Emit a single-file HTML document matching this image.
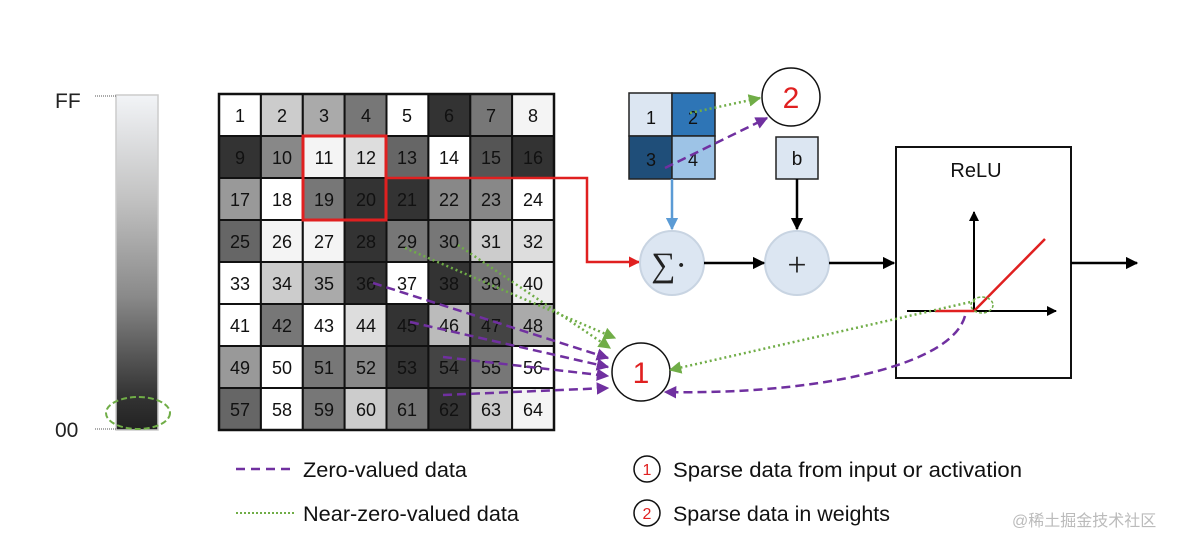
<!DOCTYPE html>
<html><head><meta charset="utf-8"><style>
html,body{margin:0;padding:0;background:#fff;}
svg{display:block;font-family:"Liberation Sans","Noto Sans CJK SC",sans-serif;}
</style></head><body>
<svg width="1192" height="546" viewBox="0 0 1192 546" xmlns="http://www.w3.org/2000/svg">
<defs>
<linearGradient id="g" x1="0" y1="0" x2="0" y2="1">
<stop offset="0" stop-color="#f2f4f7"/><stop offset="0.3" stop-color="#c4c4c4"/><stop offset="0.6" stop-color="#8a8a8a"/><stop offset="0.9" stop-color="#333"/><stop offset="1" stop-color="#222"/>
</linearGradient>
<marker id="ab" viewBox="0 0 10 10" refX="9" refY="5" markerWidth="5" markerHeight="5" orient="auto"><path d="M0,0L10,5L0,10z" fill="#000"/></marker>
<marker id="ar" viewBox="0 0 10 10" refX="9" refY="5" markerWidth="4.5" markerHeight="4.5" orient="auto"><path d="M0,0L10,5L0,10z" fill="#e02020"/></marker>
<marker id="abl" viewBox="0 0 10 10" refX="9" refY="5" markerWidth="5" markerHeight="5" orient="auto"><path d="M0,0L10,5L0,10z" fill="#5b9bd5"/></marker>
<marker id="ap" viewBox="0 0 10 10" refX="9" refY="5" markerWidth="5" markerHeight="5" orient="auto"><path d="M0,0L10,5L0,10z" fill="#7030a0"/></marker>
<marker id="ag" viewBox="0 0 10 10" refX="9" refY="5" markerWidth="5" markerHeight="5" orient="auto"><path d="M0,0L10,5L0,10z" fill="#70ad47"/></marker>
</defs>

<rect x="116" y="95" width="42" height="335" fill="url(#g)" stroke="#ccc" stroke-width="1.5"/>
<line x1="95" y1="96" x2="116" y2="96" stroke="#555" stroke-width="1" stroke-dasharray="1,1"/>
<line x1="95" y1="429" x2="116" y2="429" stroke="#555" stroke-width="1" stroke-dasharray="1,1"/>
<text x="55" y="108" font-size="21" fill="#222">FF</text>
<text x="55" y="437" font-size="21" fill="#222">00</text>
<ellipse cx="138" cy="413" rx="32" ry="16" fill="none" stroke="#70ad47" stroke-width="2" stroke-dasharray="6,3"/>

<g stroke="#111" stroke-width="2">
<g transform="translate(0,94)">
<rect x="219" width="41.9" height="42" fill="#fff"/><rect x="260.9" width="41.9" height="42" fill="#ccc"/><rect x="302.8" width="41.9" height="42" fill="#aaa"/><rect x="344.6" width="41.9" height="42" fill="#777"/><rect x="386.5" width="41.9" height="42" fill="#fff"/><rect x="428.4" width="41.9" height="42" fill="#333"/><rect x="470.3" width="41.9" height="42" fill="#777"/><rect x="512.1" width="41.9" height="42" fill="#f4f4f4"/></g>
<g transform="translate(0,136)">
<rect x="219" width="41.9" height="42" fill="#333"/><rect x="260.9" width="41.9" height="42" fill="#888"/><rect x="302.8" width="41.9" height="42" fill="#f4f4f4"/><rect x="344.6" width="41.9" height="42" fill="#ddd"/><rect x="386.5" width="41.9" height="42" fill="#666"/><rect x="428.4" width="41.9" height="42" fill="#fff"/><rect x="470.3" width="41.9" height="42" fill="#555"/><rect x="512.1" width="41.9" height="42" fill="#333"/></g>
<g transform="translate(0,178)">
<rect x="219" width="41.9" height="42" fill="#999"/><rect x="260.9" width="41.9" height="42" fill="#fff"/><rect x="302.8" width="41.9" height="42" fill="#777"/><rect x="344.6" width="41.9" height="42" fill="#333"/><rect x="386.5" width="41.9" height="42" fill="#333"/><rect x="428.4" width="41.9" height="42" fill="#888"/><rect x="470.3" width="41.9" height="42" fill="#888"/><rect x="512.1" width="41.9" height="42" fill="#fff"/></g>
<g transform="translate(0,220)">
<rect x="219" width="41.9" height="42" fill="#666"/><rect x="260.9" width="41.9" height="42" fill="#f4f4f4"/><rect x="302.8" width="41.9" height="42" fill="#f4f4f4"/><rect x="344.6" width="41.9" height="42" fill="#333"/><rect x="386.5" width="41.9" height="42" fill="#777"/><rect x="428.4" width="41.9" height="42" fill="#777"/><rect x="470.3" width="41.9" height="42" fill="#ccc"/><rect x="512.1" width="41.9" height="42" fill="#ddd"/></g>
<g transform="translate(0,262)">
<rect x="219" width="41.9" height="42" fill="#fff"/><rect x="260.9" width="41.9" height="42" fill="#ccc"/><rect x="302.8" width="41.9" height="42" fill="#aaa"/><rect x="344.6" width="41.9" height="42" fill="#333"/><rect x="386.5" width="41.9" height="42" fill="#fff"/><rect x="428.4" width="41.9" height="42" fill="#333"/><rect x="470.3" width="41.9" height="42" fill="#777"/><rect x="512.1" width="41.9" height="42" fill="#eee"/></g>
<g transform="translate(0,304)">
<rect x="219" width="41.9" height="42" fill="#fff"/><rect x="260.9" width="41.9" height="42" fill="#777"/><rect x="302.8" width="41.9" height="42" fill="#fff"/><rect x="344.6" width="41.9" height="42" fill="#ddd"/><rect x="386.5" width="41.9" height="42" fill="#333"/><rect x="428.4" width="41.9" height="42" fill="#bbb"/><rect x="470.3" width="41.9" height="42" fill="#444"/><rect x="512.1" width="41.9" height="42" fill="#aaa"/></g>
<g transform="translate(0,346)">
<rect x="219" width="41.9" height="42" fill="#999"/><rect x="260.9" width="41.9" height="42" fill="#fff"/><rect x="302.8" width="41.9" height="42" fill="#777"/><rect x="344.6" width="41.9" height="42" fill="#888"/><rect x="386.5" width="41.9" height="42" fill="#333"/><rect x="428.4" width="41.9" height="42" fill="#444"/><rect x="470.3" width="41.9" height="42" fill="#777"/><rect x="512.1" width="41.9" height="42" fill="#fff"/></g>
<g transform="translate(0,388)">
<rect x="219" width="41.9" height="42" fill="#666"/><rect x="260.9" width="41.9" height="42" fill="#fff"/><rect x="302.8" width="41.9" height="42" fill="#777"/><rect x="344.6" width="41.9" height="42" fill="#ccc"/><rect x="386.5" width="41.9" height="42" fill="#777"/><rect x="428.4" width="41.9" height="42" fill="#333"/><rect x="470.3" width="41.9" height="42" fill="#ccc"/><rect x="512.1" width="41.9" height="42" fill="#f4f4f4"/></g>
</g>
<g font-size="18" text-anchor="middle" fill="#111">
<g transform="translate(0,122)"><text x="240">1</text><text x="282">2</text><text x="324">3</text><text x="366">4</text><text x="407">5</text><text x="449">6</text><text x="491">7</text><text x="533">8</text></g>
<g transform="translate(0,164)"><text x="240">9</text><text x="282">10</text><text x="324">11</text><text x="366">12</text><text x="407">13</text><text x="449">14</text><text x="491">15</text><text x="533">16</text></g>
<g transform="translate(0,206)"><text x="240">17</text><text x="282">18</text><text x="324">19</text><text x="366">20</text><text x="407">21</text><text x="449">22</text><text x="491">23</text><text x="533">24</text></g>
<g transform="translate(0,248)"><text x="240">25</text><text x="282">26</text><text x="324">27</text><text x="366">28</text><text x="407">29</text><text x="449">30</text><text x="491">31</text><text x="533">32</text></g>
<g transform="translate(0,290)"><text x="240">33</text><text x="282">34</text><text x="324">35</text><text x="366">36</text><text x="407">37</text><text x="449">38</text><text x="491">39</text><text x="533">40</text></g>
<g transform="translate(0,332)"><text x="240">41</text><text x="282">42</text><text x="324">43</text><text x="366">44</text><text x="407">45</text><text x="449">46</text><text x="491">47</text><text x="533">48</text></g>
<g transform="translate(0,374)"><text x="240">49</text><text x="282">50</text><text x="324">51</text><text x="366">52</text><text x="407">53</text><text x="449">54</text><text x="491">55</text><text x="533">56</text></g>
<g transform="translate(0,416)"><text x="240">57</text><text x="282">58</text><text x="324">59</text><text x="366">60</text><text x="407">61</text><text x="449">62</text><text x="491">63</text><text x="533">64</text></g>
</g>
<rect x="219" y="94" width="335" height="336" fill="none" stroke="#111" stroke-width="2.5"/>
<rect x="303" y="136" width="83" height="84" fill="none" stroke="#e02020" stroke-width="3"/>
<polyline points="386,178 587,178 587,262 639,262" fill="none" stroke="#e02020" stroke-width="2.5" marker-end="url(#ar)"/>

<rect x="629" y="93" width="43" height="43" fill="#dce6f2" stroke="#222" stroke-width="1.5"/>
<rect x="672" y="93" width="43" height="43" fill="#2e75b6" stroke="#222" stroke-width="1.5"/>
<rect x="629" y="136" width="43" height="43" fill="#1f4e79" stroke="#222" stroke-width="1.5"/>
<rect x="672" y="136" width="43" height="43" fill="#9dc3e6" stroke="#222" stroke-width="1.5"/>
<g font-size="18" fill="#111" text-anchor="middle">
<text x="651" y="124">1</text><text x="693" y="124">2</text><text x="651" y="166">3</text><text x="693" y="166">4</text></g>
<line x1="672" y1="179" x2="672" y2="229" stroke="#5b9bd5" stroke-width="2.5" marker-end="url(#abl)"/>

<circle cx="791" cy="97" r="29" fill="#fff" stroke="#111" stroke-width="1.5"/>
<text x="791" y="108" font-size="30" fill="#e02020" text-anchor="middle">2</text>

<rect x="776" y="137" width="42" height="42" fill="#dce6f2" stroke="#222" stroke-width="1.5"/>
<text x="797" y="165" font-size="19" text-anchor="middle" fill="#111">b</text>
<line x1="797" y1="179" x2="797" y2="229" stroke="#000" stroke-width="2.5" marker-end="url(#ab)"/>

<circle cx="672" cy="263" r="32" fill="#dce6f2" stroke="#c8d4e2" stroke-width="2"/>
<text x="669" y="276" font-size="34" text-anchor="middle" fill="#222" font-family="Liberation Serif,serif">∑·</text>
<circle cx="797" cy="263" r="32" fill="#dce6f2" stroke="#c8d4e2" stroke-width="2"/>
<text x="797" y="276" font-size="34" text-anchor="middle" fill="#222" font-family="Liberation Serif,serif">+</text>
<line x1="704" y1="263" x2="764" y2="263" stroke="#000" stroke-width="2.5" marker-end="url(#ab)"/>
<line x1="829" y1="263" x2="894" y2="263" stroke="#000" stroke-width="2.5" marker-end="url(#ab)"/>

<rect x="896" y="147" width="175" height="231" fill="#fff" stroke="#111" stroke-width="2"/>
<text x="976" y="177" font-size="20" text-anchor="middle" fill="#111">ReLU</text>
<line x1="974" y1="311" x2="974" y2="212" stroke="#000" stroke-width="2" marker-end="url(#ab)"/>
<line x1="907" y1="311" x2="1056" y2="311" stroke="#000" stroke-width="2" marker-end="url(#ab)"/>
<polyline points="935,311 974,311 1045,239" fill="none" stroke="#e02020" stroke-width="2.5"/>
<ellipse cx="982" cy="305" rx="11" ry="8" fill="none" stroke="#70ad47" stroke-width="1.5" stroke-dasharray="3,2"/>
<line x1="1071" y1="263" x2="1137" y2="263" stroke="#000" stroke-width="2.5" marker-end="url(#ab)"/>

<circle cx="641" cy="372" r="29" fill="#fff" stroke="#111" stroke-width="1.5"/>
<text x="641" y="383" font-size="30" fill="#e02020" text-anchor="middle">1</text>

<g fill="none" stroke="#7030a0" stroke-width="2.5" stroke-dasharray="9,5" marker-end="url(#ap)">
<line x1="373" y1="283" x2="608" y2="358"/>
<line x1="410" y1="322" x2="608" y2="367"/>
<line x1="443" y1="357" x2="608" y2="376"/>
<line x1="443" y1="395" x2="608" y2="388"/>
<line x1="665" y1="168" x2="767" y2="118"/>
<path d="M965,316 C950,370 800,395 665,392"/>
</g>
<g fill="none" stroke="#70ad47" stroke-width="2.5" stroke-dasharray="2,3" marker-end="url(#ag)">
<line x1="405" y1="248" x2="615" y2="338"/>
<line x1="458" y1="245" x2="610" y2="348"/>
<line x1="690" y1="113" x2="760" y2="98"/>
<line x1="975" y1="301" x2="670" y2="370"/>
</g>

<line x1="236" y1="469" x2="296" y2="469" stroke="#7030a0" stroke-width="2.5" stroke-dasharray="9,6"/>
<text x="303" y="477" font-size="21" fill="#111" textLength="164" lengthAdjust="spacingAndGlyphs">Zero-valued data</text>
<line x1="236" y1="513" x2="296" y2="513" stroke="#70ad47" stroke-width="2" stroke-dasharray="2,2"/>
<text x="303" y="521" font-size="21" fill="#111" textLength="216" lengthAdjust="spacingAndGlyphs">Near-zero-valued data</text>
<circle cx="647" cy="469" r="13" fill="#fff" stroke="#111" stroke-width="1.5"/>
<text x="647" y="475" font-size="16" fill="#e02020" text-anchor="middle">1</text>
<text x="673" y="477" font-size="21" fill="#111" textLength="349" lengthAdjust="spacingAndGlyphs">Sparse data from input or activation</text>
<circle cx="647" cy="513" r="13" fill="#fff" stroke="#111" stroke-width="1.5"/>
<text x="647" y="519" font-size="16" fill="#e02020" text-anchor="middle">2</text>
<text x="673" y="521" font-size="21" fill="#111" textLength="217" lengthAdjust="spacingAndGlyphs">Sparse data in weights</text>
<text x="1012" y="526" font-size="16" fill="#bbb">@稀土掘金技术社区</text>
</svg>
</body></html>
